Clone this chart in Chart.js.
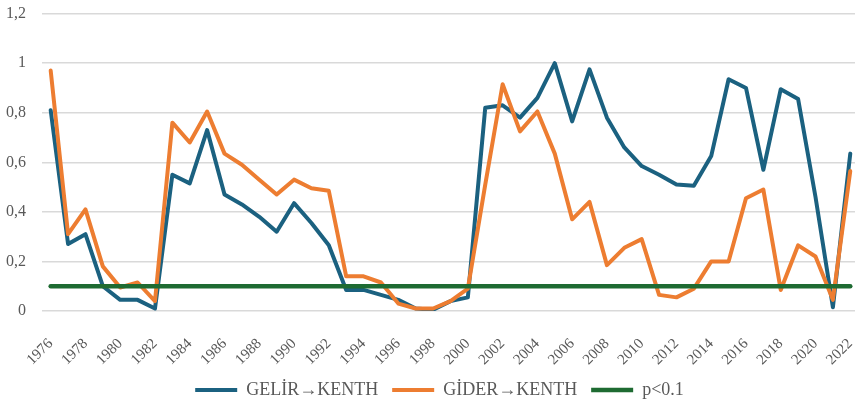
<!DOCTYPE html>
<html>
<head>
<meta charset="utf-8">
<script src="https://cdn.jsdelivr.net/npm/chart.js@4.4.0/dist/chart.umd.min.js"></script>
<style>
  html, body { margin: 0; padding: 0; background: #ffffff; overflow: hidden; }
  #wrap { position: absolute; left: 0; top: -12px; width: 879px; height: 421px; }
</style>
</head>
<body>
<div id="wrap"><canvas id="c"></canvas></div>
<script>
const years = [];
for (let y = 1976; y <= 2022; y++) years.push(String(y));

const gelir = [0.81, 0.27, 0.31, 0.10, 0.045, 0.045, 0.01, 0.55, 0.515, 0.73,
  0.47, 0.43, 0.38, 0.32, 0.435, 0.355, 0.265, 0.085, 0.085, 0.065,
  0.045, 0.01, 0.005, 0.04, 0.055, 0.82, 0.83, 0.78, 0.86, 1.0,
  0.765, 0.975, 0.78, 0.66, 0.585, 0.55, 0.51, 0.505, 0.625, 0.935,
  0.9, 0.57, 0.895, 0.855, 0.46, 0.015, 0.635];

const gider = [0.97, 0.31, 0.41, 0.18, 0.095, 0.115, 0.04, 0.76, 0.68, 0.805,
  0.635, 0.59, 0.53, 0.47, 0.53, 0.495, 0.485, 0.14, 0.14, 0.115,
  0.03, 0.01, 0.01, 0.04, 0.09, 0.51, 0.915, 0.725, 0.805, 0.635,
  0.37, 0.44, 0.185, 0.255, 0.29, 0.065, 0.055, 0.09, 0.2, 0.2,
  0.455, 0.49, 0.085, 0.265, 0.22, 0.045, 0.565];

const pThreshold = years.map(() => 0.1);

const seriesNames = ['GELİR→KENTH', 'GİDER→KENTH', 'p<0.1'];
const yTicks = [0, 0.2, 0.4, 0.6, 0.8, 1, 1.2];

const FONT = '"Liberation Serif", "Times New Roman", "DejaVu Serif", serif';
const TEXT = '#595959';

new Chart(document.getElementById('c'), {
  type: 'line',
  data: {
    labels: years,
    datasets: [
      { label: seriesNames[0], data: gelir, borderColor: '#1b6180', backgroundColor: '#1b6180',
        borderWidth: 4, pointRadius: 0, tension: 0, order: 3, borderCapStyle: 'round', borderJoinStyle: 'round' },
      { label: seriesNames[1], data: gider, borderColor: '#ed7d31', backgroundColor: '#ed7d31',
        borderWidth: 4, pointRadius: 0, tension: 0, order: 2, borderCapStyle: 'round', borderJoinStyle: 'round' },
      { label: seriesNames[2], data: pThreshold, borderColor: '#1e6b32', backgroundColor: '#1e6b32',
        borderWidth: 4.5, pointRadius: 0, tension: 0, order: 1, borderCapStyle: 'round' }
    ]
  },
  options: {
    responsive: true,
    maintainAspectRatio: false,
    animation: false,
    layout: { padding: { top: 0, right: 0, left: 0, bottom: 0 } },
    plugins: {
      tooltip: { enabled: false },
      legend: {
        position: 'bottom',
        labels: {
          usePointStyle: true,
          pointStyle: 'line',
          pointStyleWidth: 42,
          boxHeight: 15,
          padding: 14,
          color: TEXT,
          font: { family: FONT, size: 18 },
          sort: (a, b) => a.datasetIndex - b.datasetIndex
        }
      }
    },
    scales: {
      x: {
        offset: true,
        grid: { display: false },
        border: { display: false },
        afterFit: (s) => { s.height = 56; },
        ticks: {
          autoSkip: false,
          maxRotation: 45,
          minRotation: 45,
          padding: 16,
          color: TEXT,
          font: { family: FONT, size: 15 },
          callback: function (v) { const l = this.getLabelForValue(v); return (Number(l) % 2 === 0) ? l : ''; }
        }
      },
      y: {
        min: 0,
        max: 1.2,
        afterBuildTicks: (s) => { s.ticks = yTicks.map(v => ({ value: v })); },
        afterFit: (s) => { s.width = 42; },
        grid: { color: '#d9d9d9', lineWidth: 1.5, drawTicks: false },
        border: { display: false },
        ticks: {
          padding: 16,
          color: TEXT,
          font: { family: FONT, size: 16 },
          callback: (v) => String(Math.round(v * 10) / 10).replace('.', ',')
        }
      }
    }
  }
});
</script>
</body>
</html>
